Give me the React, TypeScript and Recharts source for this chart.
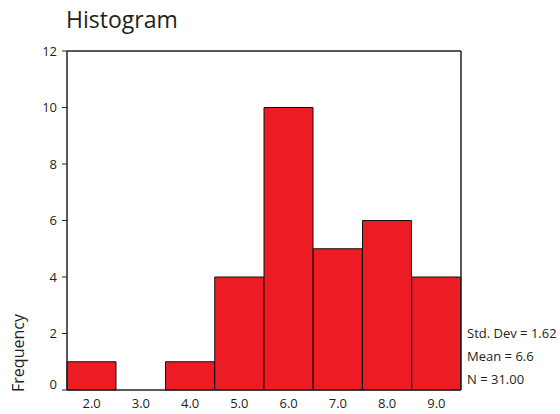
import { BarChart, Bar, XAxis, YAxis } from 'recharts';

const bins = ['2.0', '3.0', '4.0', '5.0', '6.0', '7.0', '8.0', '9.0'];
const counts = [1, 0, 1, 4, 10, 5, 6, 4];
const yTicks = [0, 2, 4, 6, 8, 10, 12];
const stats = ['Std. Dev = 1.62', 'Mean = 6.6', 'N = 31.00'];

const data = bins.map((bin, i) => ({ bin, count: counts[i] }));

const FONT = '"Open Sans", "DejaVu Sans", sans-serif';
const INK = '#231f20';
const AXIS = { stroke: '#222', strokeWidth: 1.5 };

// SPSS lifts the "0" label a little above the baseline
function LeftTick(props: any) {
  const { x, y, payload } = props;
  const dy = payload.value === 0 ? -6 : 0;
  return (
    <text x={x} y={y + dy} dy="0.35em" textAnchor="end" fontSize={13} fill={INK} fontFamily={FONT}>
      {payload.value}
    </text>
  );
}

export default function App() {
  return (
    <div style={{ position: 'absolute', left: 0, top: 0, width: 560, height: 414, background: '#fff', fontFamily: FONT, color: INK }}>
      <div style={{ position: 'absolute', left: 66, top: 3, fontSize: 23 }}>Histogram</div>
      <div
        style={{
          position: 'absolute',
          left: 18,
          top: 353,
          fontSize: 16,
          transform: 'translate(-50%, -50%) rotate(-90deg)',
          whiteSpace: 'nowrap',
        }}
      >
        Frequency
      </div>
      {stats.map((s, i) => (
        <div key={s} style={{ position: 'absolute', left: 467, top: 324 + i * 23, fontSize: 13, whiteSpace: 'nowrap' }}>
          {s}
        </div>
      ))}
      <BarChart
        width={560}
        height={414}
        data={data}
        barCategoryGap={0}
        margin={{ top: 50, right: 98, bottom: 4, left: 37 }}
      >
        <XAxis
          dataKey="bin"
          xAxisId="bottom"
          height={20}
          tickLine={false}
          axisLine={AXIS}
          tick={{ fontSize: 13, fill: INK, fontFamily: FONT }}
          tickMargin={3}
          interval={0}
        />
        <XAxis dataKey="bin" xAxisId="top" orientation="top" height={1} tick={false} tickLine={false} axisLine={AXIS} />
        <YAxis
          yAxisId="left"
          width={30}
          domain={[0, 12]}
          ticks={yTicks}
          tickSize={5}
          tickMargin={5}
          tickLine={{ stroke: '#222' }}
          axisLine={AXIS}
          tick={<LeftTick />}
        />
        <YAxis yAxisId="right" orientation="right" width={1} domain={[0, 12]} tick={false} tickLine={false} axisLine={AXIS} />
        <Bar
          dataKey="count"
          xAxisId="bottom"
          yAxisId="left"
          fill="#ed1c24"
          stroke="#111"
          strokeWidth={1}
          isAnimationActive={false}
        />
      </BarChart>
    </div>
  );
}
